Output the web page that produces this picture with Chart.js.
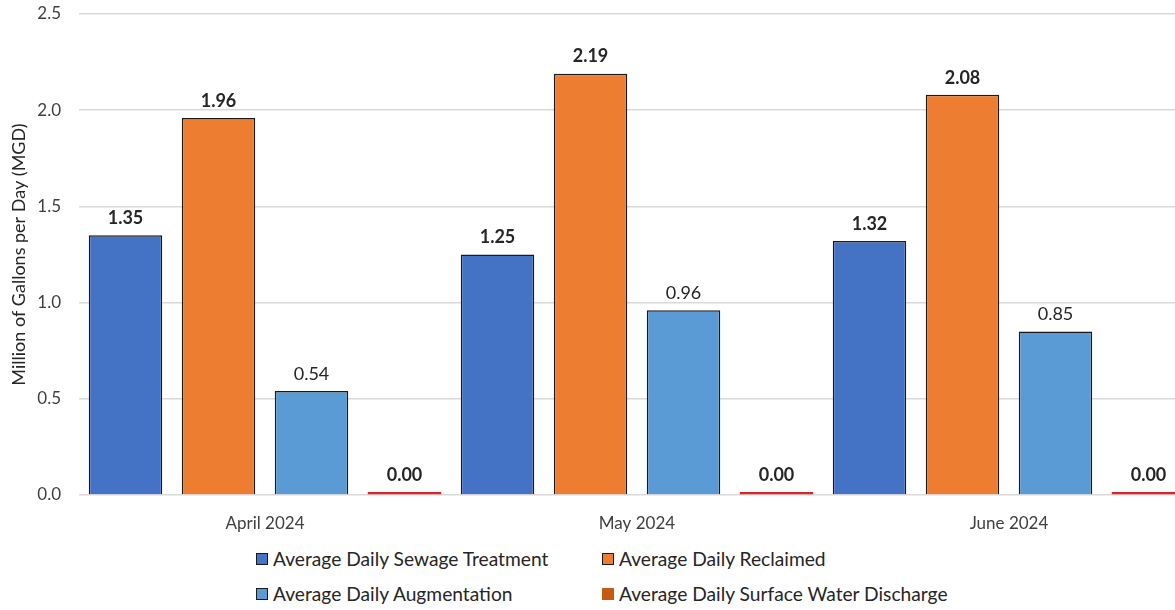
<!DOCTYPE html>
<html>
  <head>
    <title>Monthly Flow Chart</title>
    <script src="https://cdn.jsdelivr.net/npm/chart.js"></script>
    <style>
      body { margin: 0; background: #fff; overflow: hidden; font-family: Lato, sans-serif; }
      #wrap { position: relative; width: 1200px; height: 540px; }
      #legend {
        position: absolute; left: 256px; top: 547px;
        display: grid; grid-template-columns: 346px 360px; row-gap: 12px;
        font-size: 19.2px; color: #262626;
      }
      .item { display: flex; align-items: center; white-space: nowrap; }
      .box { width: 10px; height: 10px; border: 1px solid #1a1a1a; margin-right: 5px; }
    </style>
  </head>
  <body>
    <div id="wrap"><canvas id="flowChart" width="1200" height="540"></canvas></div>
    <div id="legend"></div>

    <script>
      // chart values
      var months = ['April 2024', 'May 2024', 'June 2024'];
      var sewage = [1.35, 1.25, 1.32];
      var reclaimed = [1.96, 2.19, 2.08];
      var augmentation = [0.54, 0.96, 0.85];
      var discharge = [0.0, 0.0, 0.0];
      var yTicks = [0, 0.5, 1.0, 1.5, 2.0, 2.5];

      var seriesNames = [
        'Average Daily Sewage Treatment',
        'Average Daily Reclaimed',
        'Average Daily Augmentation',
        'Average Daily Surface Water Discharge'
      ];
      var legendColors = ['#4472C4', '#ED7D31', '#5B9BD5', '#C55A11'];

      // value labels above the bars
      var valueLabels = {
        id: 'valueLabels',
        afterDatasetsDraw: function (chart) {
          var ctx = chart.ctx;
          ctx.save();
          ctx.textAlign = 'center';
          ctx.textBaseline = 'bottom';
          ctx.fillStyle = '#262626';
          chart.data.datasets.forEach(function (ds, i) {
            var meta = chart.getDatasetMeta(i);
            ctx.font = (ds.boldLabel ? 'bold ' : '') + '18px Lato, sans-serif';
            meta.data.forEach(function (bar, j) {
              ctx.fillText(ds.data[j].toFixed(2), bar.x, bar.y - 8);
            });
          });
          ctx.restore();
        }
      };

      var ctx = document.getElementById('flowChart').getContext('2d');
      var flowChart = new Chart(ctx, {
        type: 'bar',
        data: {
          labels: months,
          datasets: [
            {
              label: seriesNames[0],
              data: sewage,
              backgroundColor: '#4472C4',
              borderColor: '#1a1a1a',
              borderWidth: 1.5,
              boldLabel: true
            },
            {
              label: seriesNames[1],
              data: reclaimed,
              backgroundColor: '#ED7D31',
              borderColor: '#1a1a1a',
              borderWidth: 1.5,
              boldLabel: true
            },
            {
              label: seriesNames[2],
              data: augmentation,
              backgroundColor: '#5B9BD5',
              borderColor: '#1a1a1a',
              borderWidth: 1.5,
              boldLabel: false
            },
            {
              label: seriesNames[3],
              data: discharge,
              backgroundColor: '#D9262B',
              borderWidth: 0,
              minBarLength: 3,
              boldLabel: true
            }
          ]
        },
        options: {
          responsive: false,
          animation: false,
          devicePixelRatio: 1,
          barPercentage: 0.79,
          categoryPercentage: 1.0,
          layout: { padding: { top: 14, right: 5, bottom: 0, left: 0 } },
          plugins: {
            legend: { display: false },
            tooltip: { enabled: false }
          },
          scales: {
            x: {
              grid: { display: false },
              border: { display: false },
              ticks: { color: '#404040', font: { family: 'Lato', size: 17 }, padding: 10 },
              afterFit: function (scale) { scale.height = 45; }
            },
            y: {
              min: 0,
              max: 2.5,
              afterBuildTicks: function (scale) {
                scale.ticks = yTicks.map(function (v) { return { value: v }; });
              },
              grid: { color: '#d9d9d9', lineWidth: 1.5, drawTicks: false },
              border: { display: false },
              ticks: {
                color: '#404040',
                font: { family: 'Lato', size: 17 },
                padding: 18,
                callback: function (v) { return Number(v).toFixed(1); }
              },
              title: {
                display: true,
                text: 'Million of Gallons per Day (MGD)',
                color: '#262626',
                font: { family: 'Lato', size: 18 },
                padding: { top: 8, bottom: 0 }
              },
              afterFit: function (scale) {
                scale.width = 79;
                scale.paddingTop = 0;
                scale.paddingBottom = 0;
              }
            }
          }
        },
        plugins: [valueLabels]
      });

      // two-column legend under the chart
      var legendEl = document.getElementById('legend');
      seriesNames.forEach(function (name, i) {
        var item = document.createElement('div');
        item.className = 'item';
        var box = document.createElement('span');
        box.className = 'box';
        box.style.background = legendColors[i];
        if (i === 3) box.style.borderColor = legendColors[i];
        item.appendChild(box);
        item.appendChild(document.createTextNode(name));
        legendEl.appendChild(item);
      });
    </script>
  </body>
</html>
